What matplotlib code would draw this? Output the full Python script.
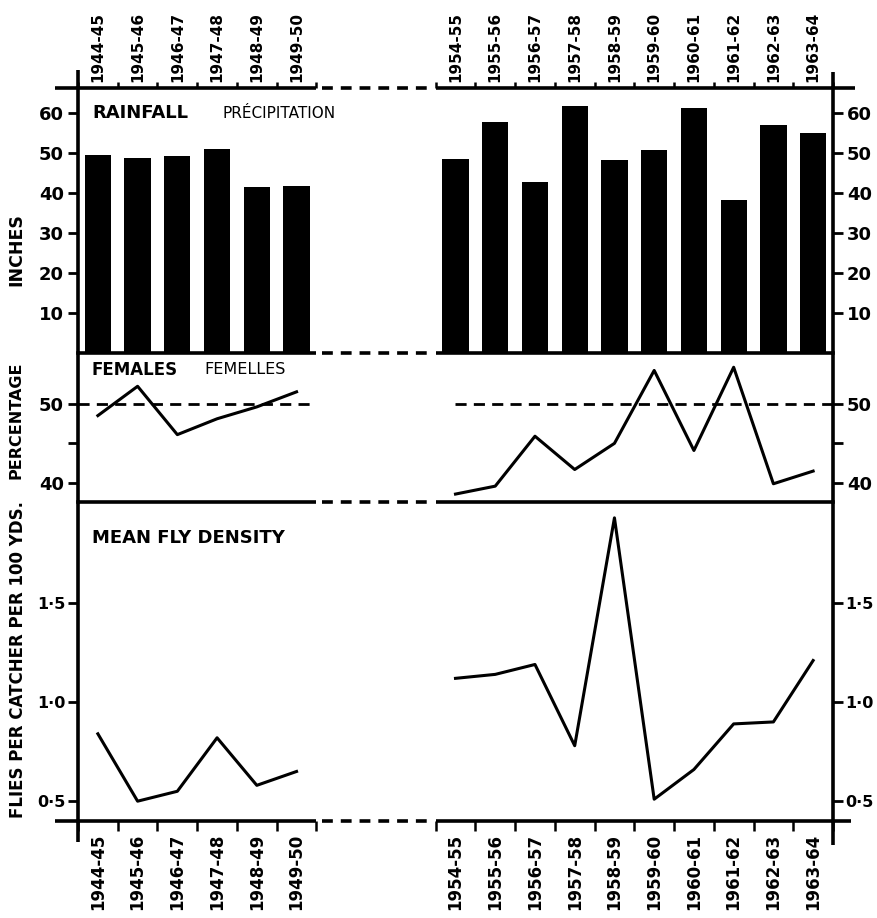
import matplotlib
matplotlib.use('Agg')
import matplotlib.pyplot as plt
import numpy as np

# ---------------- data ----------------
periods_early = ['1944-45', '1945-46', '1946-47', '1947-48', '1948-49', '1949-50']
periods_late = ['1954-55', '1955-56', '1956-57', '1957-58', '1958-59',
                '1959-60', '1960-61', '1961-62', '1962-63', '1963-64']

rain_early = [49.5, 48.8, 49.2, 50.9, 41.5, 41.7]
rain_late = [48.5, 57.6, 42.6, 61.6, 48.1, 50.6, 61.2, 38.3, 56.9, 55.0]

fem_early = [48.5, 52.2, 46.1, 48.1, 49.6, 51.5]
fem_late = [38.6, 39.6, 45.9, 41.7, 45.0, 54.2, 44.1, 54.6, 39.9, 41.5]

fly_early = [0.84, 0.50, 0.55, 0.82, 0.58, 0.65]
fly_late = [1.12, 1.14, 1.19, 0.78, 1.93, 0.51, 0.66, 0.89, 0.90, 1.21]

rain_ticks = [10, 20, 30, 40, 50, 60]
rain_tick_labels = ['10', '20', '30', '40', '50', '60']
fem_ticks = [40, 45, 50]
fem_tick_labels = ['40', '', '50']
fly_ticks = [0.5, 1.0, 1.5]
fly_tick_labels = ['0·5', '1·0', '1·5']
parity_level = 50

# ---------------- layout ----------------
plt.rcParams['font.family'] = ['DejaVu Sans']
plt.rcParams['font.weight'] = 'bold'

W, H = 878, 918
fig = plt.figure(figsize=(W / 100, H / 100), dpi=100)
fig.patch.set_facecolor('white')

x_left_px, x_right_px = 78, 833
rows_px = [88, 353, 502, 821]   # top of rain, rain/fem, fem/fly, bottom


def fx(px):
    return px / W


def fy(py):
    return 1 - py / H


def make_ax(top, bottom):
    return fig.add_axes([fx(x_left_px), fy(bottom), fx(x_right_px - x_left_px),
                         (bottom - top) / H])


ax_rain = make_ax(rows_px[0], rows_px[1])
ax_fem = make_ax(rows_px[1], rows_px[2])
ax_fly = make_ax(rows_px[2], rows_px[3])

gap_start = len(periods_early)
late_start = gap_start + 3
x_max = late_start + len(periods_late)
pos_early = np.arange(len(periods_early)) + 0.5
pos_late = late_start + np.arange(len(periods_late)) + 0.5
edges = list(range(0, gap_start + 1)) + list(range(late_start, x_max + 1))

FRAME_LW = 2.6
DASH = (0, (3, 2.2))

for ax in (ax_rain, ax_fem, ax_fly):
    ax.set_xlim(0, x_max)
    for s in ('top', 'bottom'):
        ax.spines[s].set_visible(False)
    for s in ('left', 'right'):
        ax.spines[s].set_linewidth(FRAME_LW)
    ax.tick_params(axis='y', left=True, right=True, labelleft=True, labelright=True,
                   length=7, width=2, direction='out', labelsize=13, pad=3)
    ax.patch.set_alpha(0)


def hframe(ax, yax, ext_left=0.0, ext_right=0.0):
    tr = ax.get_xaxis_transform()
    ax.plot([-ext_left, gap_start], [yax, yax], color='black', lw=FRAME_LW,
            transform=tr, clip_on=False, solid_capstyle='butt', zorder=5)
    ax.plot([late_start, x_max + ext_right], [yax, yax], color='black', lw=FRAME_LW,
            transform=tr, clip_on=False, solid_capstyle='butt', zorder=5)
    ax.plot([gap_start + 0.15, late_start - 0.05], [yax, yax], color='black', lw=FRAME_LW,
            linestyle=DASH, transform=tr, clip_on=False, zorder=5)


# ---- rainfall ----
ax_rain.bar(pos_early, rain_early, width=0.66, color='black', zorder=2)
ax_rain.bar(pos_late, rain_late, width=0.66, color='black', zorder=2)
ax_rain.set_ylim(0, 66.2)
ax_rain.set_yticks(rain_ticks, rain_tick_labels)
ax_rain.xaxis.set_ticks_position('top')
ax_rain.set_xticks(edges, [''] * len(edges))
ax_rain.set_xticks(list(pos_early) + list(pos_late), periods_early + periods_late, minor=True)
ax_rain.tick_params(axis='x', which='major', top=True, bottom=False, length=4, width=1.8,
                    direction='out')
ax_rain.tick_params(axis='x', which='minor', top=True, bottom=False, labeltop=True,
                    labelbottom=False, length=0, pad=4, labelsize=11, labelrotation=90)
hframe(ax_rain, 1, ext_left=0.58, ext_right=0.55)
hframe(ax_rain, 0)
ax_rain.plot([0, 0], [1, 1 + 18 / 265], transform=ax_rain.transAxes, color='black',
             lw=FRAME_LW, clip_on=False, solid_capstyle='butt')
ax_rain.plot([1, 1], [1, 1 + 16 / 265], transform=ax_rain.transAxes, color='black',
             lw=FRAME_LW, clip_on=False, solid_capstyle='butt')
ax_rain.text(0.0185, 0.905, 'RAINFALL', transform=ax_rain.transAxes, fontsize=13,
             fontweight='bold', va='center', ha='left')
ax_rain.text(0.191, 0.905, 'PRÉCIPITATION', transform=ax_rain.transAxes, fontsize=11,
             fontweight='normal', va='center', ha='left')

# ---- females ----
ax_fem.plot(pos_early, fem_early, color='black', lw=2.2, zorder=3)
ax_fem.plot(pos_late, fem_late, color='black', lw=2.2, zorder=3)
ax_fem.hlines(parity_level, 0, gap_start, colors='black', lw=2.0, linestyles=(0, (4, 2.6)))
ax_fem.hlines(parity_level, pos_late[0], x_max, colors='black', lw=2.0,
              linestyles=(0, (4, 2.6)))
ax_fem.set_ylim(37.6, 56.4)
ax_fem.set_yticks(fem_ticks, fem_tick_labels)
ax_fem.set_xticks([])
hframe(ax_fem, 0)
ax_fem.text(0.0185, 0.886, 'FEMALES', transform=ax_fem.transAxes, fontsize=12,
            fontweight='bold', va='center', ha='left')
ax_fem.text(0.168, 0.886, 'FEMELLES', transform=ax_fem.transAxes, fontsize=11.5,
            fontweight='normal', va='center', ha='left')

# ---- fly density ----
ax_fly.plot(pos_early, fly_early, color='black', lw=2.2, zorder=3)
ax_fly.plot(pos_late, fly_late, color='black', lw=2.2, zorder=3)
ax_fly.set_ylim(0.40, 2.01)
ax_fly.set_yticks(fly_ticks, fly_tick_labels)
ax_fly.tick_params(axis='y', labelsize=11.5, pad=2)
ax_fly.set_xticks(edges, [''] * len(edges))
ax_fly.set_xticks(list(pos_early) + list(pos_late), periods_early + periods_late, minor=True)
ax_fly.tick_params(axis='x', which='major', bottom=True, top=False, length=7, width=1.8,
                   direction='out')
ax_fly.tick_params(axis='x', which='minor', bottom=True, top=False, labelbottom=True,
                   length=0, pad=9, labelsize=12, labelrotation=90)
hframe(ax_fly, 0, ext_left=0.58, ext_right=0.45)
ax_fly.plot([0, 0], [0, -21 / 319], transform=ax_fly.transAxes, color='black',
            lw=FRAME_LW, clip_on=False, solid_capstyle='butt')
ax_fly.plot([1, 1], [0, -24 / 319], transform=ax_fly.transAxes, color='black',
            lw=FRAME_LW, clip_on=False, solid_capstyle='butt')
ax_fly.text(0.0185, 0.887, 'MEAN FLY DENSITY', transform=ax_fly.transAxes, fontsize=13,
            fontweight='bold', va='center', ha='left')

# ---- axis titles ----
fig.text(fx(16), fy(250), 'INCHES', rotation=90, ha='center', va='center',
         fontsize=12.5, fontweight='bold')
fig.text(fx(16), fy(420), 'PERCENTAGE', rotation=90, ha='center', va='center',
         fontsize=11.5, fontweight='bold')
fig.text(fx(18), fy(660), 'FLIES PER CATCHER PER 100 YDS.', rotation=90, ha='center',
         va='center', fontsize=12, fontweight='bold')

fig.savefig('out.png', dpi=100, facecolor='white')
